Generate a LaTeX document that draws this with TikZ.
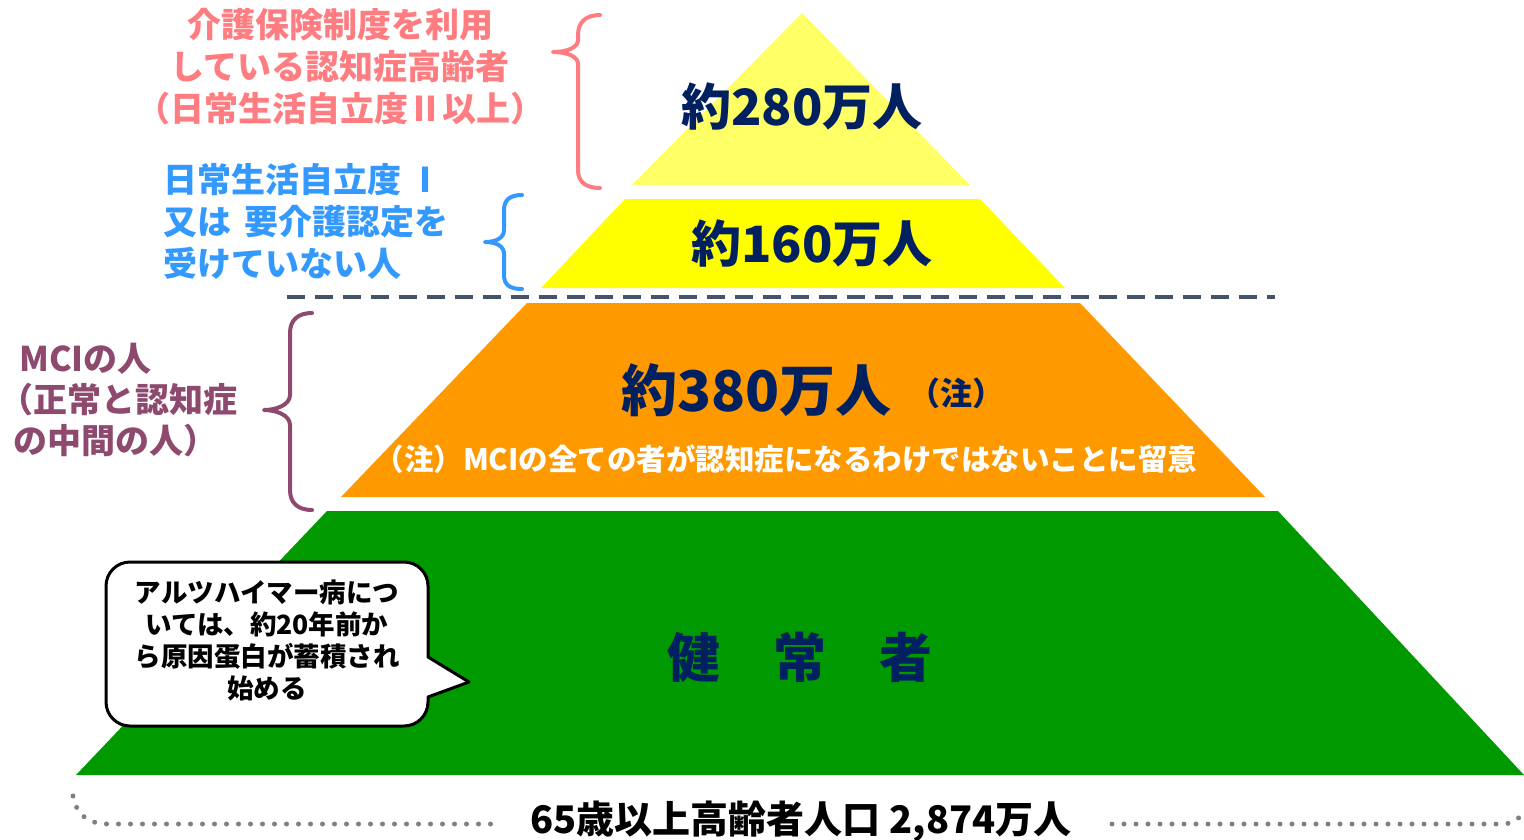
\documentclass[tikz,border=0pt]{standalone}
\usepackage{fontspec}
\setmainfont{Noto Sans CJK JP}
\definecolor{ylight}{HTML}{FFFF66}
\definecolor{ybright}{HTML}{FFFF00}
\definecolor{orng}{HTML}{FF9900}
\definecolor{grn}{HTML}{009900}
\definecolor{navy}{HTML}{002060}
\definecolor{pnk}{HTML}{FF7C80}
\definecolor{blu}{HTML}{3399FF}
\definecolor{plum}{HTML}{8E4A6E}
\definecolor{slate}{HTML}{44546A}
\definecolor{dotgray}{HTML}{808080}
\tikzset{
  bigtxt/.style={text=navy,font=\fontsize{50}{56}\selectfont\bfseries,inner sep=0pt},
  sidetxt/.style={font=\fontsize{34}{42}\selectfont\bfseries,inner sep=0pt},
  bracestyle/.style={line width=4pt,line cap=round,line join=round},
  dotline/.style={dotgray,line width=5pt,line cap=round,dash pattern=on 0pt off 12pt},
}
\begin{document}
\begin{tikzpicture}[x=1pt,y=-1pt]
\useasboundingbox (0,0) rectangle (1524,839);
% layers
\fill[ylight] (802,13) -- (970,185) -- (632,185) -- cycle;
\fill[ybright] (625,199) -- (980,199) -- (1065,288) -- (541,288) -- cycle;
\fill[orng] (527,303) -- (1080,303) -- (1265,497) -- (341,497) -- cycle;
\fill[grn] (327,511) -- (1278,511) -- (1524,775) -- (76,775) -- cycle;
% dashed separator
\coordinate (dl) at (287,297);
\coordinate (dr) at (1275,297);
\draw[slate,line width=3.5pt,dash pattern=on 18pt off 10pt] (dl) -- (dr);
% layer texts
\node[bigtxt] (t280) at (802,106) {約280万人};
\node[bigtxt] (t160) at (812,243) {約160万人};
\node[bigtxt,font=\fontsize{56}{60}\selectfont\bfseries,anchor=east] (t380) at (892,390) {約380万人};
\node[text=navy,font=\fontsize{32}{36}\selectfont\bfseries,inner sep=0pt,anchor=west] (tnote) at (908,393) {（注）};
\node[text=white,font=\fontsize{29.5}{32}\selectfont\bfseries,inner sep=0pt] (tnotel) at (786,459) {（注）MCIの全ての者が認知症になるわけではないことに留意};
\node[bigtxt,font=\fontsize{53}{58}\selectfont\bfseries] (tken) at (800,657) {健　常　者};
% side labels
\node[sidetxt,text=pnk,align=center] (lpink) at (340,67) {介護保険制度を利用\\している認知症高齢者\\（日常生活自立度Ⅱ以上）};
\node[sidetxt,text=blu,align=left,anchor=west] (lblue) at (163,221) {日常生活自立度 Ⅰ\\又は\hspace{6pt} 要介護認定を\\受けていない人};
\node[sidetxt,text=plum,align=left,anchor=west,font=\fontsize{34}{41}\selectfont\bfseries] (lmci) at (13,400) {\hspace*{6pt}MCIの人\\\hspace*{-14pt}（正常と認知症\\の中間の人）};
% braces
\draw[bracestyle,pnk] (600,15) .. controls (586,15) and (578,22) .. (578,35) -- (578,40) .. controls (578,48) and (566,52) .. (553,52) .. controls (566,52) and (578,56) .. (578,64) -- (578,170) .. controls (578,182) and (586,188) .. (600,188);
\draw[bracestyle,blu] (522,195) .. controls (510,195) and (504,200) .. (504,210) -- (504,230) .. controls (504,238) and (496,242) .. (485,242) .. controls (496,242) and (504,246) .. (504,254) -- (504,275) .. controls (504,285) and (510,289) .. (522,289);
\draw[bracestyle,plum] (312,313) .. controls (298,313) and (290,320) .. (290,333) -- (290,395) .. controls (290,405) and (276,410) .. (264,410) .. controls (276,410) and (290,415) .. (290,425) -- (290,490) .. controls (290,503) and (298,510) .. (312,510);
% callout
\draw[line width=3pt,fill=white,line join=round] (428,657) [rounded corners=24pt] -- (428,562) -- (106,562) -- (106,726) -- (428,726) [sharp corners] -- (428,697) -- (469,682) -- cycle;
\node[font=\fontsize{26.5}{32}\selectfont\bfseries,align=center,inner sep=0pt] (callt) at (267,640) {アルツハイマー病につ\\いては、約20年前か\\ら原因蛋白が蓄積され\\始める};
% bottom
\node[font=\fontsize{38}{40}\selectfont\bfseries,inner sep=0pt] (total) at (801,822) {65歳以上高齢者人口 2,874万人};
\coordinate (bl) at (73,796);
\coordinate (br) at (1524,812);
\draw[dotline] (bl) .. controls (76,814) and (88,824) .. (108,824) -- (500,824);
\draw[dotline] (1112,824) -- (1503,824) .. controls (1512,824) and (1520,818) .. (br);
\end{tikzpicture}
\end{document}
